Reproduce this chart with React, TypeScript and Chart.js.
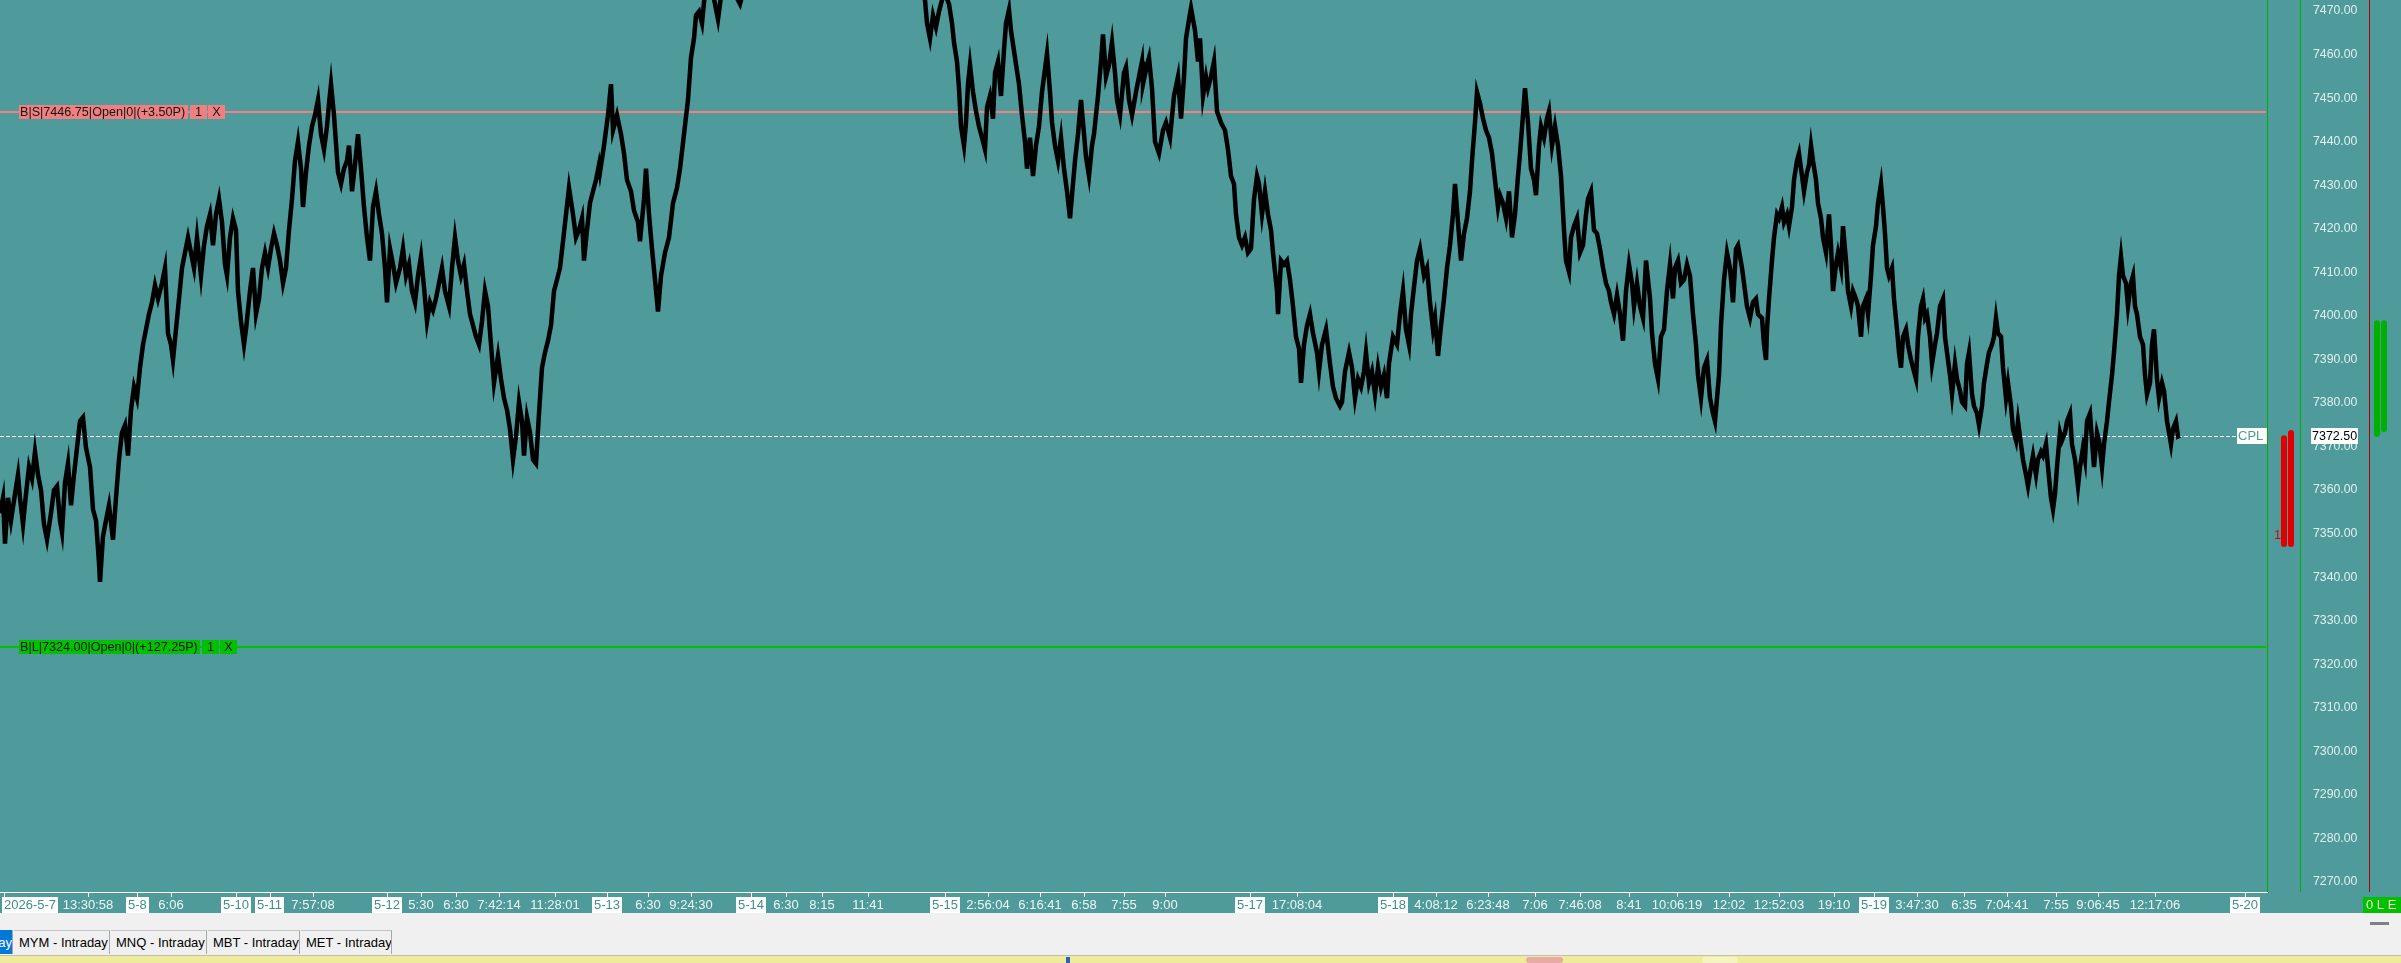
import React, { useEffect, useRef } from 'react';
import { Chart, registerables } from 'chart.js';

Chart.register(...registerables);

// ---------- DATA ----------
// price trace: [bar index, price]
const sessionA: [number, number][] = [
  [0,7354.7],[3,7358.2],[5,7347.7],[8,7358.2],[11,7353.0],[15,7359.1],[18,7363.5],[20,7358.2],[23,7352.1],[26,7359.1],[29,7365.3],[32,7362.6],[35,7368.8],[38,7363.5],[41,7360.0],[44,7352.1],[47,7348.6],[51,7354.7],[54,7360.0],[57,7360.9],[60,7353.0],[62,7350.3],[65,7361.7],[68,7366.1],[71,7356.5],[74,7363.5],[77,7369.7],[80,7375.8],[83,7376.7],[86,7369.7],[90,7365.3],[93,7355.6],[96,7353.0],[99,7343.3],[100,7338.9],[101,7342.4],[103,7349.4],[106,7353.0],[109,7356.5],[113,7348.6],[116,7358.2],[119,7367.0],[122,7373.2],[125,7374.9],[128,7367.9],[131,7378.4],[134,7383.7],[137,7381.1],[140,7388.1],[143,7393.4],[146,7396.9],[149,7400.4],[152,7403.1],[155,7407.0],[158,7403.9],[162,7407.5],[165,7411.0],[168,7396.0],[171,7393.4],[173,7389.9],[176,7396.9],[179,7403.9],[182,7411.0],[185,7414.5],[188,7418.0],[191,7414.5],[194,7411.0],[197,7418.0],[201,7409.2],[204,7416.2],[207,7420.6],[210,7423.3],[213,7416.2],[216,7423.3],[219,7426.8],[222,7421.5],[225,7411.8],[227,7409.2],[230,7418.0],[233,7422.4],[236,7419.7],[238,7405.7],[241,7398.7],[244,7393.4],[246,7396.9],[250,7405.7],[253,7411.0],[256,7400.4],[259,7403.9],[262,7411.0],[265,7414.5],[268,7411.0],[271,7415.4],[274,7418.9],[277,7416.2],[280,7412.7],[283,7407.5],[286,7411.0],[289,7419.7],[292,7426.8],[295,7435.6],[298,7440.0],[301,7433.8],[303,7425.0],[306,7433.0],[309,7439.1],[312,7443.5],[315,7446.1],[318,7449.6],[321,7441.7],[324,7438.2],[327,7443.5],[329,7448.8],[331,7453.2],[334,7446.1],[338,7433.0],[341,7430.3],[344,7433.8],[347,7435.6],[349,7439.1],[352,7428.6],[355,7434.7],[358,7441.7],[361,7433.8],[364,7425.0],[367,7418.0],[370,7412.7],[373,7425.0],[376,7428.6],[379,7423.3],[382,7418.9],[385,7411.0],[387,7403.1],[390,7415.4],[393,7411.8],[396,7407.5],[400,7411.0],[403,7415.4],[406,7409.2],[409,7411.8],[412,7405.7],[415,7403.1],[418,7409.2],[421,7413.6],[424,7406.6],[427,7398.7],[430,7403.1],[433,7401.3],[436,7404.0],[439,7407.5],[442,7411.0],[445,7405.7],[449,7402.2],[452,7411.0],[455,7418.0],[458,7412.7],[461,7409.2],[464,7411.8],[467,7405.7],[470,7400.4],[473,7397.8],[476,7395.2],[479,7393.4],[482,7398.7],[485,7405.7],[488,7402.2],[491,7393.4],[494,7384.6],[498,7390.8],[501,7385.5],[504,7381.1],[507,7378.4],[510,7374.0],[513,7367.0],[516,7372.3],[519,7380.2],[522,7375.8],[524,7367.9],[527,7376.7],[530,7373.2],[533,7367.0],[536,7366.1],[539,7377.6],[542,7388.1],[545,7391.6],[548,7394.3],[551,7397.8],[554,7405.7],[557,7408.3],[560,7411.0],[563,7417.1],[566,7423.3],[569,7429.4],[573,7423.3],[576,7418.0],[579,7419.7],[582,7422.4],[584,7412.7],[587,7419.7],[590,7425.9],[593,7428.6],[596,7431.2],[599,7434.7]
];

const sessionB: [number, number][] = [
  [600,7433.0],[604,7439.1],[608,7446.1],[611,7453.2],[613,7442.6],[617,7446.1],[621,7441.7],[624,7437.3],[627,7431.2],[631,7428.6],[634,7424.2],[638,7421.5],[640,7417.1],[644,7426.8],[646,7433.8],[649,7423.3],[652,7415.4],[655,7408.3],[658,7401.0],[661,7409.2],[665,7414.5],[669,7418.0],[673,7425.9],[677,7429.4],[680,7433.8],[684,7441.7],[688,7449.6],[691,7459.3],[694,7463.7],[696,7469.0],[699,7469.9],[702,7467.2],[705,7474.3],[711,7476.0],[715,7471.6],[718,7468.1],[722,7475.1],[728,7477.0],[734,7474.3],[740,7471.6],[745,7476.0],[752,7478.0],[770,7483.0],[790,7480.0],[810,7487.0],[830,7484.0],[850,7490.0],[870,7486.0],[890,7482.0],[910,7478.0],[920,7475.0],[925,7472.5],[927,7467.2],[930,7463.7],[933,7469.0],[936,7466.3],[939,7469.9],[943,7473.4],[946,7473.4],[949,7471.6],[952,7467.2],[954,7462.8],[957,7458.4],[959,7452.3],[961,7443.5],[964,7439.1],[966,7444.4],[968,7453.2],[970,7457.6],[973,7451.4],[976,7447.0],[979,7443.5],[982,7440.9],[985,7438.2],[987,7447.9],[990,7450.5],[993,7445.3],[995,7455.8],[998,7458.4],[1001,7450.5],[1004,7461.1],[1006,7467.2],[1009,7470.3],[1011,7465.5],[1015,7459.3],[1019,7453.2],[1022,7446.1],[1025,7440.0],[1027,7433.8],[1030,7440.9],[1033,7432.1],[1036,7439.1],[1039,7443.5],[1042,7451.4],[1045,7456.7],[1047,7460.2],[1050,7451.4],[1052,7444.4],[1055,7439.1],[1058,7435.6],[1061,7440.9],[1064,7433.8],[1067,7428.6],[1070,7422.4],[1073,7430.3],[1075,7435.6],[1078,7441.7],[1081,7449.6],[1083,7444.4],[1086,7436.5],[1089,7432.1],[1092,7439.1],[1094,7441.7],[1098,7450.5],[1101,7458.4],[1103,7464.6],[1106,7454.9],[1109,7457.6],[1112,7462.8],[1115,7455.8],[1117,7449.6],[1120,7446.1],[1124,7455.8],[1126,7457.1],[1129,7449.6],[1132,7446.1],[1136,7451.4],[1139,7454.9],[1142,7458.4],[1143,7453.2],[1147,7457.6],[1149,7459.3],[1152,7452.3],[1155,7440.0],[1159,7437.3],[1163,7442.6],[1166,7444.4],[1170,7440.9],[1174,7450.5],[1178,7454.9],[1181,7445.3],[1184,7454.9],[1186,7463.7],[1189,7468.1],[1191,7470.7],[1195,7465.5],[1198,7458.4]
];

const sessionC: [number, number][] = [
  [1200,7463.7],[1203,7450.5],[1206,7454.9],[1208,7452.3],[1211,7454.9],[1214,7458.4],[1217,7447.0],[1221,7444.4],[1225,7442.6],[1228,7438.2],[1231,7432.1],[1234,7430.3],[1236,7423.3],[1239,7418.0],[1242,7416.2],[1245,7418.0],[1248,7414.5],[1251,7415.4],[1254,7426.8],[1257,7432.1],[1259,7430.3],[1262,7423.3],[1265,7428.6],[1268,7423.3],[1271,7419.7],[1273,7414.5],[1277,7405.7],[1278,7400.4],[1281,7412.7],[1284,7411.8],[1287,7412.7],[1290,7408.3],[1293,7402.2],[1296,7395.2],[1299,7392.5],[1301,7384.6],[1304,7393.4],[1307,7397.8],[1310,7400.4],[1313,7396.0],[1317,7391.6],[1319,7387.2],[1322,7393.4],[1326,7396.9],[1330,7389.0],[1333,7383.7],[1336,7381.1],[1340,7379.3],[1342,7380.2],[1345,7387.2],[1349,7391.6],[1352,7388.1],[1355,7381.1],[1358,7385.5],[1361,7383.7],[1364,7387.2],[1366,7391.6],[1369,7384.6],[1372,7387.2],[1375,7382.0],[1378,7388.1],[1381,7383.7],[1384,7386.4],[1387,7381.1],[1389,7389.0],[1393,7395.2],[1397,7393.4],[1400,7400.4],[1403,7405.7],[1406,7396.9],[1409,7393.4],[1411,7400.4],[1414,7406.6],[1417,7412.7],[1420,7415.4],[1424,7409.2],[1427,7411.0],[1430,7403.1],[1433,7396.9],[1435,7399.5],[1438,7390.8],[1441,7397.8],[1444,7403.9],[1447,7411.0],[1450,7416.2],[1453,7423.3],[1455,7430.3],[1458,7421.5],[1461,7412.7],[1464,7418.9],[1467,7422.4],[1470,7428.6],[1472,7435.6],[1475,7444.4],[1477,7451.4],[1480,7448.8],[1483,7445.3],[1486,7442.6],[1489,7440.9],[1492,7437.3],[1495,7431.2],[1498,7425.0],[1500,7427.7],[1503,7425.9],[1506,7422.4],[1509,7428.6],[1512,7418.0],[1515,7423.3],[1518,7432.1],[1520,7437.3],[1523,7446.1],[1525,7452.3],[1528,7444.4],[1531,7433.8],[1534,7431.2],[1536,7427.7],[1539,7439.1],[1541,7443.5],[1544,7440.9],[1547,7445.3],[1549,7447.0],[1552,7439.1],[1555,7443.5],[1558,7439.1],[1561,7432.1],[1564,7419.7],[1566,7412.7],[1569,7410.1],[1571,7418.0],[1574,7420.6],[1577,7422.4],[1580,7414.5],[1583,7416.2],[1586,7423.3],[1588,7426.8],[1591,7428.6],[1594,7419.7],[1597,7418.9],[1600,7415.4],[1603,7411.0],[1606,7407.5],[1609,7405.7],[1611,7403.1],[1614,7400.4],[1617,7404.8],[1620,7400.4],[1623,7394.3],[1626,7405.7],[1629,7411.8],[1632,7407.5],[1634,7402.2],[1637,7407.5],[1640,7402.2],[1643,7399.5],[1646,7412.7],[1650,7404.0],[1652,7396.0],[1655,7389.0],[1658,7385.5],[1661,7395.2],[1664,7396.9],[1667,7405.7],[1670,7411.8],[1673,7404.0],[1675,7411.0],[1678,7412.7],[1681,7407.5],[1684,7408.3],[1687,7411.8],[1690,7409.2],[1693,7400.4],[1696,7393.4],[1698,7386.4],[1701,7381.1],[1704,7388.1],[1707,7389.9],[1710,7381.1],[1713,7377.6],[1715,7375.8],[1719,7386.4],[1721,7397.8],[1724,7408.3],[1727,7414.5],[1730,7411.0],[1733,7403.1],[1736,7415.4],[1738,7416.2],[1742,7411.0],[1744,7407.5],[1747,7402.2]
];

const sessionD: [number, number][] = [
  [1750,7399.5],[1753,7403.1],[1756,7403.9],[1758,7400.4],[1762,7399.5],[1764,7393.4],[1766,7389.9],[1767,7396.9],[1769,7403.9],[1772,7412.7],[1774,7418.0],[1777,7423.3],[1779,7422.4],[1782,7425.0],[1784,7421.5],[1787,7423.3],[1789,7420.6],[1792,7425.0],[1794,7431.2],[1797,7435.6],[1799,7437.3],[1802,7432.1],[1804,7428.6],[1807,7433.0],[1809,7434.7],[1811,7439.1],[1813,7435.6],[1816,7431.2],[1818,7425.9],[1821,7422.4],[1823,7418.0],[1826,7414.5],[1829,7423.3],[1831,7416.2],[1833,7405.7],[1836,7411.8],[1838,7414.5],[1841,7411.0],[1843,7420.6],[1846,7412.7],[1848,7405.7],[1851,7402.2],[1853,7405.7],[1856,7403.9],[1858,7402.2],[1861,7395.2],[1863,7402.2],[1866,7403.9],[1868,7400.4],[1871,7409.2],[1873,7416.2],[1876,7420.6],[1878,7425.9],[1881,7430.3],[1883,7425.0],[1885,7418.9],[1887,7411.0],[1889,7409.2],[1892,7411.0],[1894,7403.9],[1897,7396.9],[1899,7391.6],[1901,7388.1],[1903,7395.2],[1906,7396.9],[1908,7393.4],[1911,7389.9],[1913,7388.1],[1916,7385.5],[1918,7395.2],[1921,7402.2],[1923,7403.9],[1925,7399.5],[1927,7400.4],[1930,7395.2],[1932,7389.0],[1935,7393.4],[1937,7396.0],[1940,7402.2],[1943,7403.9],[1945,7395.2],[1947,7391.6],[1950,7386.4],[1952,7382.0],[1955,7389.0],[1957,7385.5],[1960,7382.8],[1962,7380.2],[1965,7379.3],[1967,7389.0],[1969,7391.6],[1972,7382.0],[1974,7379.3],[1977,7377.6],[1979,7374.9],[1982,7379.3],[1984,7384.6],[1987,7389.0],[1989,7391.6],[1992,7393.4],[1994,7395.2],[1996,7399.5],[1998,7396.0],[2001,7395.2],[2003,7388.1],[2006,7381.1],[2008,7384.6],[2011,7379.3],[2013,7374.0],[2016,7371.4],[2018,7375.8],[2021,7370.5],[2023,7367.0],[2026,7363.5],[2028,7360.9],[2031,7365.3],[2033,7367.9],[2036,7363.5],[2038,7367.0],[2041,7368.8],[2043,7367.9],[2046,7370.5],[2048,7365.3],[2051,7358.2],[2053,7355.6],[2055,7359.1],[2057,7365.3],[2060,7373.2],[2062,7371.4],[2065,7373.2],[2067,7375.8],[2070,7377.6],[2072,7370.5],[2075,7367.0],[2078,7360.9],[2080,7365.3],[2083,7369.7],[2085,7367.0],[2087,7375.8],[2090,7377.6],[2092,7371.4],[2094,7365.3],[2097,7373.2],[2099,7371.4],[2102,7365.3],[2104,7370.5],[2107,7375.8],[2109,7380.2],[2112,7386.4],[2114,7391.6],[2117,7400.4],[2119,7409.2],[2121,7413.6],[2123,7409.2],[2126,7407.5],[2128,7402.2],[2131,7407.5],[2133,7409.2],[2135,7402.2],[2137,7400.4],[2140,7395.2],[2143,7393.4],[2145,7386.4],[2147,7382.0],[2150,7384.6],[2152,7393.4],[2154,7396.9],[2157,7385.5],[2159,7381.1],[2162,7384.6],[2164,7382.8],[2167,7375.8],[2169,7373.2],[2171,7370.5],[2173,7374.0],[2176,7375.8],[2178,7372.3],[2180,7372.5]
];

const visibleFirstBar = 0;
const visibleLastBar = 2266;
const priceMin = 7267.7;
const priceMax = 7472.53;

const yTickValues = [7270, 7280, 7290, 7300, 7310, 7320, 7330, 7340, 7350, 7360, 7370, 7380, 7390, 7400, 7410, 7420, 7430, 7440, 7450, 7460, 7470];

const xTickBars = [4, 88, 137, 171, 236, 270, 313, 387, 421, 456, 499, 555, 607, 648, 691, 751, 786, 822, 868, 945, 988, 1040, 1084, 1124, 1165, 1250, 1297, 1393, 1436, 1488, 1535, 1580, 1629, 1677, 1729, 1779, 1834, 1874, 1917, 1964, 2007, 2056, 2098, 2155, 2245];
const xTickLabels = ['2026-5-7', '13:30:58', '5-8', '6:06', '5-10', '5-11', '7:57:08', '5-12', '5:30', '6:30', '7:42:14', '11:28:01', '5-13', '6:30', '9:24:30', '5-14', '6:30', '8:15', '11:41', '5-15', '2:56:04', '6:16:41', '6:58', '7:55', '9:00', '5-17', '17:08:04', '5-18', '4:08:12', '6:23:48', '7:06', '7:46:08', '8:41', '10:06:19', '12:02', '12:52:03', '19:10', '5-19', '3:47:30', '6:35', '7:04:41', '7:55', '9:06:45', '12:17:06', '5-20'];

const orderPrices = [7446.75, 7324.0];
const orderLabels = ['B|S|7446.75|Open|0|(+3.50P)', 'B|L|7324.00|Open|0|(+127.25P)'];
const orderQty = ['1', '1'];
const lastPrice = 7372.5;

const bidColumnTop = [7372.6, 7373.8];
const bidColumnBottom = [7346.9, 7346.9];
const askColumnTop = [7399.0, 7399.0];
const askColumnBottom = [7372.2, 7373.3];

const tabNames = ['Intraday', 'MYM - Intraday', 'MNQ - Intraday', 'MBT - Intraday', 'MET - Intraday'];

// ---------- STYLE ----------
const TEAL = '#4f9b9b';
const FONT = '"Liberation Sans", Arial, sans-serif';
const ORDER_COLORS = ['#f08080', '#00c000'];
const tabEdges = [0, 14, 111, 208, 301, 393];

const overlayPlugin = {
  id: 'overlay',
  beforeDatasetsDraw(chart: any) {
    const { ctx, chartArea: a, scales } = chart;
    const y = scales.y;
    ctx.save();
    orderPrices.forEach((p, i) => {
      const py = Math.round(y.getPixelForValue(p));
      ctx.fillStyle = ORDER_COLORS[i];
      ctx.fillRect(a.left, py - 1, a.right - a.left, 2);
    });
    const cy = Math.round(y.getPixelForValue(lastPrice)) + 0.5;
    ctx.strokeStyle = '#ffffff';
    ctx.lineWidth = 1;
    ctx.setLineDash([4, 2]);
    ctx.beginPath();
    ctx.moveTo(a.left, cy);
    ctx.lineTo(a.right - 30, cy);
    ctx.stroke();
    ctx.restore();
  },
  afterDraw(chart: any) {
    const { ctx, chartArea: a, scales } = chart;
    const x = scales.x;
    const y = scales.y;
    ctx.save();
    ctx.textBaseline = 'middle';

    // order label boxes
    ctx.font = `12.6px ${FONT}`;
    orderPrices.forEach((p, i) => {
      const py = Math.round(y.getPixelForValue(p));
      const w = Math.ceil(ctx.measureText(orderLabels[i]).width) + 3;
      let bx = 19;
      ctx.fillStyle = ORDER_COLORS[i];
      ctx.fillRect(bx, py - 7, w, 14);
      ctx.fillStyle = '#141414';
      ctx.textAlign = 'left';
      ctx.fillText(orderLabels[i], bx + 1, py + 0.5);
      bx += w + 2;
      ctx.fillStyle = ORDER_COLORS[i];
      ctx.fillRect(bx, py - 7, 17, 14);
      ctx.fillStyle = '#141414';
      ctx.textAlign = 'center';
      ctx.fillText(orderQty[i], bx + 8.5, py + 0.5);
      bx += 18;
      ctx.fillStyle = ORDER_COLORS[i];
      ctx.fillRect(bx, py - 7, 17, 14);
      ctx.fillStyle = '#141414';
      ctx.fillText('X', bx + 8.5, py + 0.5);
    });

    // vertical separators
    ctx.fillStyle = '#00b000';
    ctx.fillRect(a.right + 1, 0, 1, a.bottom);
    ctx.fillRect(a.right + 34, 0, 1, a.bottom);
    ctx.fillStyle = '#b00000';
    ctx.fillRect(a.right + 103, 0, 1, a.bottom);

    // x axis line, ticks & labels
    ctx.fillStyle = '#ffffff';
    ctx.fillRect(a.left, a.bottom, a.right - a.left + 2, 1);
    ctx.font = `13px ${FONT}`;
    xTickBars.forEach((b, i) => {
      const px = Math.round(x.getPixelForValue(b));
      ctx.fillStyle = '#ffffff';
      ctx.fillRect(px, a.bottom + 1, 1, 4);
      const label = xTickLabels[i];
      const isDate = label.includes('-');
      const w = ctx.measureText(label).width;
      const ly = a.bottom + 13;
      if (isDate) {
        const left = i === 0 ? px - 2 : px - w / 2 - 2;
        ctx.fillStyle = '#ffffff';
        ctx.fillRect(Math.round(left), a.bottom + 5, Math.round(w + 4), 16);
        ctx.fillStyle = '#3f8e8e';
        ctx.textAlign = 'left';
        ctx.fillText(label, Math.round(left) + 2, ly);
      } else {
        ctx.fillStyle = '#eef6f6';
        ctx.textAlign = 'center';
        ctx.fillText(label, px, ly);
      }
    });

    // depth columns
    const col = (x0: number, top: number, bottom: number, color: string) => {
      const t = y.getPixelForValue(top);
      const bt = y.getPixelForValue(bottom);
      ctx.fillStyle = color;
      ctx.beginPath();
      (ctx as any).roundRect ? (ctx as any).roundRect(x0, t, 6, bt - t, 3) : ctx.rect(x0, t, 6, bt - t);
      ctx.fill();
    };
    bidColumnTop.forEach((t, i) => col(a.right + 15 + i * 7, t, bidColumnBottom[i], '#e00000'));
    askColumnTop.forEach((t, i) => col(a.right + 108 + i * 7, t, askColumnBottom[i], '#00b000'));
    ctx.font = `12px ${FONT}`;
    ctx.fillStyle = '#d00000';
    ctx.textAlign = 'right';
    ctx.fillText('1', a.right + 15, y.getPixelForValue(7349.5));

    // CPL + last price boxes
    const cy = Math.round(y.getPixelForValue(lastPrice));
    ctx.fillStyle = '#ffffff';
    ctx.fillRect(a.right - 29, cy - 8, 30, 16);
    ctx.fillRect(a.right + 45, cy - 8, 47, 16);
    ctx.font = `13px ${FONT}`;
    ctx.textAlign = 'left';
    ctx.fillStyle = TEAL;
    ctx.fillText('CPL', a.right - 28, cy + 0.5);
    ctx.font = `12.5px ${FONT}`;
    ctx.fillStyle = '#000000';
    ctx.fillText(lastPrice.toFixed(2), a.right + 46, cy + 0.5);

    // status box
    ctx.fillStyle = '#00c000';
    ctx.fillRect(a.right + 97, a.bottom + 5, 40, 16);
    ctx.fillStyle = '#f4f4d0';
    ctx.font = `13px ${FONT}`;
    ctx.fillText('0 L E', a.right + 100, a.bottom + 13);
    ctx.restore();
  },
};

export default function App() {
  const ref = useRef<HTMLCanvasElement | null>(null);

  useEffect(() => {
    const canvas = ref.current;
    if (!canvas) return;
    const points = [sessionA, sessionB, sessionC, sessionD].flat().map(([b, p]) => ({ x: b, y: p }));
    const chart = new Chart(canvas, {
      type: 'line',
      data: {
        datasets: [
          {
            data: points,
            borderColor: '#000000',
            borderWidth: 4.5,
            pointRadius: 0,
            tension: 0,
            clip: 0,
          } as any,
        ],
      },
      options: {
        animation: false,
        responsive: false,
        devicePixelRatio: 1,
        events: [],
        layout: { padding: 0 },
        plugins: { legend: { display: false }, tooltip: { enabled: false } },
        scales: {
          x: {
            type: 'linear',
            min: visibleFirstBar,
            max: visibleLastBar,
            grid: { display: false, drawTicks: false },
            border: { display: false },
            ticks: { display: false },
            afterFit: (s: any) => {
              s.height = 21;
              s.paddingLeft = 0;
              s.paddingRight = 0;
            },
          },
          y: {
            type: 'linear',
            position: 'right',
            min: priceMin,
            max: priceMax,
            grid: { display: false, drawTicks: false },
            border: { display: false },
            afterBuildTicks: (s: any) => {
              s.ticks = yTickValues.map((v) => ({ value: v }));
            },
            afterFit: (s: any) => {
              s.width = 135;
              s.paddingTop = 0;
              s.paddingBottom = 0;
            },
            ticks: {
              padding: 47,
              autoSkip: false,
              color: '#e2efef',
              font: { family: FONT, size: 12.3 },
              callback: (v: any) => Number(v).toFixed(2),
            },
          },
        },
      } as any,
      plugins: [overlayPlugin],
    });
    return () => chart.destroy();
  }, []);

  return (
    <div style={{ position: 'relative', width: 2401, height: 963, overflow: 'hidden', background: TEAL, fontFamily: FONT }}>
      <style>{'body{margin:0}'}</style>
      <canvas ref={ref} width={2401} height={913} style={{ position: 'absolute', left: 0, top: 0, width: 2401, height: 913 }} />
      <div style={{ position: 'absolute', left: 0, top: 913, width: 2401, height: 42, background: '#f0f0f0' }} />
      {tabNames.map((name, i) => {
        const left = tabEdges[i];
        const width = tabEdges[i + 1] - left;
        const active = i === 0;
        return (
          <div
            key={i}
            style={{
              position: 'absolute',
              left,
              top: 930,
              width: width - 1,
              height: 24,
              background: active ? '#0078d7' : '#f0f0f0',
              color: active ? '#ffffff' : '#000000',
              borderTop: active ? 'none' : '1px solid #c4c4c4',
              borderRight: '1px solid #a8a8a8',
              overflow: 'hidden',
              display: 'flex',
              alignItems: 'center',
              justifyContent: active ? 'flex-end' : 'flex-start',
              fontSize: 13,
              whiteSpace: 'nowrap',
              boxSizing: 'border-box',
            }}
          >
            <span style={{ paddingLeft: active ? 0 : 5 }}>{name}</span>
          </div>
        );
      })}
      <div style={{ position: 'absolute', left: 2370, top: 922, width: 19, height: 3, background: '#808080' }} />
      <div style={{ position: 'absolute', left: 0, top: 955, width: 2401, height: 8, background: '#eeec9c', borderTop: '1px solid #c0bea8', boxSizing: 'border-box' }} />
      <div style={{ position: 'absolute', left: 1066, top: 957, width: 4, height: 6, background: '#2a62c0' }} />
      <div style={{ position: 'absolute', left: 1526, top: 957, width: 37, height: 6, background: '#e8aaa4', borderRadius: 3 }} />
      <div style={{ position: 'absolute', left: 1702, top: 957, width: 36, height: 6, background: '#f4f3c4', borderRadius: 3 }} />
    </div>
  );
}
